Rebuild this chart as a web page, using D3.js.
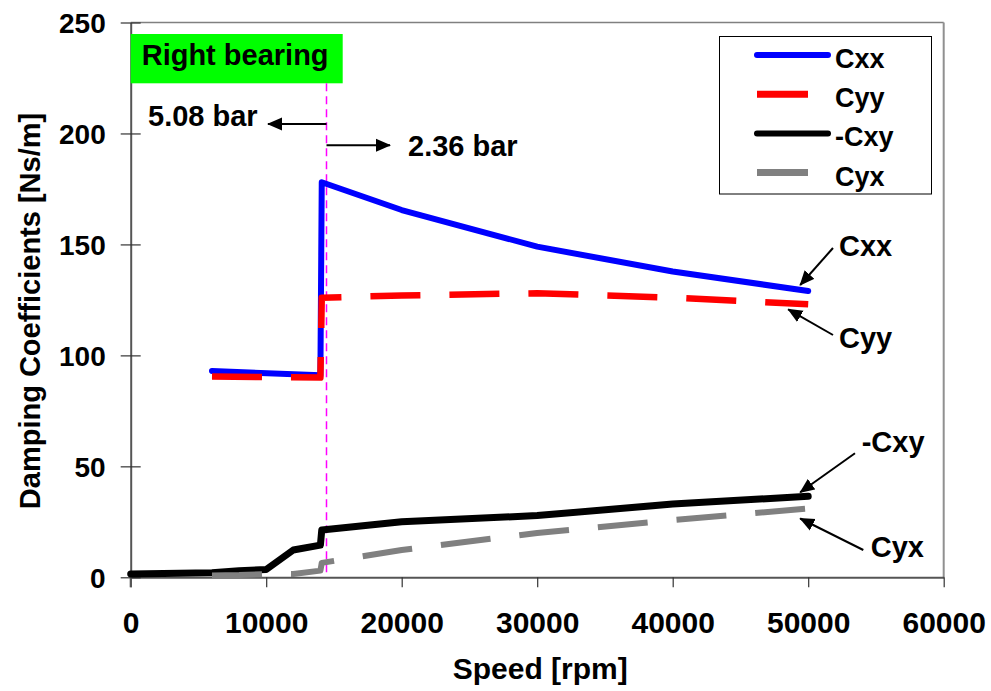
<!DOCTYPE html>
<html>
<head>
<meta charset="utf-8">
<script src="https://cdn.jsdelivr.net/npm/d3@7"></script>
<style>
  html, body { margin: 0; padding: 0; background: #fff; }
  svg { display: block; font-family: "Liberation Sans", Arial, sans-serif; font-weight: bold; }
</style>
</head>
<body>
<svg id="chart" width="991" height="691"></svg>
<script>
// Damping coefficients of the right bearing versus shaft speed
const speedDirect = [6000, 14000, 14100, 20000, 30000, 40000, 50000];
const cxx = [93, 91, 178, 165.5, 149, 137.8, 129];
const cyy = [90.5, 90, 126, 127, 128, 126, 123];

const speedCxy = [0, 6000, 8000, 10000, 12000, 14000, 14100, 20000, 30000, 40000, 50000];
const negCxy = [1.5, 2, 3, 3.5, 12.3, 14.5, 21.3, 25, 27.8, 33, 36.5];

const speedCyx = [6000, 8000, 10000, 12000, 14000, 14100, 20000, 30000, 40000, 50000];
const cyx = [0.8, 1, 1.5, 1.5, 3, 6.5, 12.3, 20, 25.8, 31];

const xTicks = [0, 10000, 20000, 30000, 40000, 50000, 60000];
const yTicks = [0, 50, 100, 150, 200, 250];

const supplySpeed = 14450;          // speed where supply pressure changes
const pressureLow = "5.08 bar";
const pressureHigh = "2.36 bar";

const seriesList = [
  { name: "Cxx",  xs: speedDirect, ys: cxx,    color: "#0000ff", width: 6,   dash: null,    cap: "round" },
  { name: "Cyy",  xs: speedDirect, ys: cyy,    color: "#ff0000", width: 6.5, dash: "50,29", cap: "butt" },
  { name: "-Cxy", xs: speedCxy,    ys: negCxy, color: "#000000", width: 7,   dash: null,    cap: "round" },
  { name: "Cyx",  xs: speedCyx,    ys: cyx,    color: "#808080", width: 6,   dash: "50,29", cap: "butt" }
];

const svg = d3.select("#chart");
const x = d3.scaleLinear().domain([0, 60000]).range([130.7, 943.7]);
const y = d3.scaleLinear().domain([0, 250]).range([577.3, 22.5]);

// arrowhead marker
svg.append("defs").append("marker")
  .attr("id", "arrow")
  .attr("markerUnits", "userSpaceOnUse")
  .attr("viewBox", "0 -7 15 14")
  .attr("refX", 14).attr("refY", 0)
  .attr("markerWidth", 15).attr("markerHeight", 14)
  .attr("orient", "auto")
  .append("path").attr("d", "M0,-6.5L15,0L0,6.5Z").attr("fill", "#000");

// plot frame (top and right)
svg.append("line").attr("x1", x(0)).attr("x2", x(60000)).attr("y1", y(250)).attr("y2", y(250))
  .attr("stroke", "#808080").attr("stroke-width", 1.5);
svg.append("line").attr("x1", x(60000)).attr("x2", x(60000)).attr("y1", y(250)).attr("y2", y(0))
  .attr("stroke", "#909090").attr("stroke-width", 2);

// x axis
const xAxis = svg.append("g").attr("transform", `translate(0,${y(0)})`)
  .call(d3.axisBottom(x).tickValues(xTicks).tickSize(10).tickSizeOuter(0).tickFormat(d3.format("d")));
xAxis.select(".domain").attr("stroke", "#555").attr("stroke-width", 2);
xAxis.selectAll(".tick line").attr("stroke", "#333").attr("stroke-width", 1.2);
xAxis.selectAll(".tick text").attr("font-size", 30).attr("font-family", null).attr("fill", "#000")
  .attr("y", 0).attr("dy", null).attr("transform", "translate(0,56)");

// y axis with ticks crossing the axis line
const yAxis = svg.append("g").attr("transform", `translate(${x(0)},0)`)
  .call(d3.axisLeft(y).tickValues(yTicks).tickSize(10).tickSizeOuter(0));
yAxis.select(".domain").attr("stroke", "#555").attr("stroke-width", 2);
yAxis.selectAll(".tick line").attr("x1", 10).attr("x2", -10).attr("stroke", "#333").attr("stroke-width", 1.2);
yAxis.selectAll(".tick text").attr("font-size", 28).attr("font-family", null).attr("fill", "#000")
  .attr("x", -25).attr("dy", "0.36em");
// extend the y axis line below the x axis like a tick
svg.append("line").attr("x1", x(0)).attr("x2", x(0)).attr("y1", y(0)).attr("y2", y(0) + 10)
  .attr("stroke", "#555").attr("stroke-width", 2);

// axis titles
svg.append("text").attr("x", x(30000) + 3).attr("y", 679).attr("text-anchor", "middle")
  .attr("font-size", 30).text("Speed [rpm]");
svg.append("text").attr("transform", "translate(39.5,311) rotate(-90)").attr("text-anchor", "middle")
  .attr("font-size", 29).text("Damping Coefficients [Ns/m]");

// label box for the bearing
svg.append("rect").attr("x", x(0)).attr("y", 34).attr("width", 212).attr("height", 49.3).attr("fill", "#00ff00");
svg.append("text").attr("x", x(0) + 11).attr("y", 65).attr("font-size", 29).text("Right bearing");

// supply-pressure change marker
svg.append("line").attr("x1", x(supplySpeed)).attr("x2", x(supplySpeed)).attr("y1", 83.3).attr("y2", y(0) - 2)
  .attr("stroke", "#ff00ff").attr("stroke-width", 1.5).attr("stroke-dasharray", "8,5");

svg.append("line").attr("x1", x(supplySpeed)).attr("x2", 268).attr("y1", 124).attr("y2", 124)
  .attr("stroke", "#000").attr("stroke-width", 2).attr("marker-end", "url(#arrow)");
svg.append("text").attr("x", 148).attr("y", 126).attr("font-size", 29).text(pressureLow);
svg.append("line").attr("x1", x(supplySpeed)).attr("x2", 390).attr("y1", 145.3).attr("y2", 145.3)
  .attr("stroke", "#000").attr("stroke-width", 2).attr("marker-end", "url(#arrow)");
svg.append("text").attr("x", 408).attr("y", 155.7).attr("font-size", 29).text(pressureHigh);

// series lines
const line = d3.line().x(d => x(d[0])).y(d => y(d[1]));
seriesList.forEach(s => {
  svg.append("path")
    .datum(d3.zip(s.xs, s.ys))
    .attr("d", line)
    .attr("fill", "none")
    .attr("stroke", s.color)
    .attr("stroke-width", s.width)
    .attr("stroke-linejoin", "round")
    .attr("stroke-linecap", s.cap)
    .attr("stroke-dasharray", s.dash);
});

// end labels with arrows pointing at the last points
const endLabels = [
  { name: "Cxx",  tx: 839,   ty: 255.7, from: [833, 248],   dx: -8,  dy: -6, s: 0 },
  { name: "Cyy",  tx: 839,   ty: 348,   from: [833, 335],   dx: -20, dy: 5,  s: 1 },
  { name: "-Cxy", tx: 861.7, ty: 451.7, from: [855, 453.3], dx: -8,  dy: -4, s: 2 },
  { name: "Cyx",  tx: 870.7, ty: 556.7, from: [863.3, 550], dx: -8,  dy: 10, s: 3 }
];
endLabels.forEach(l => {
  const s = seriesList[l.s];
  const px = x(s.xs[s.xs.length - 1]) + l.dx;
  const py = y(s.ys[s.ys.length - 1]) + l.dy;
  svg.append("line").attr("x1", l.from[0]).attr("y1", l.from[1]).attr("x2", px).attr("y2", py)
    .attr("stroke", "#000").attr("stroke-width", 2).attr("marker-end", "url(#arrow)");
  svg.append("text").attr("x", l.tx).attr("y", l.ty).attr("font-size", 29).text(l.name);
});

// legend
const lg = svg.append("g");
lg.append("rect").attr("x", 719.5).attr("y", 36.5).attr("width", 212).attr("height", 157.5)
  .attr("fill", "#fff").attr("stroke", "#000").attr("stroke-width", 1);
seriesList.forEach((s, i) => {
  const cy = 55 + i * 39.2;
  const solid = s.dash === null;
  lg.append("line")
    .attr("x1", 757).attr("x2", solid ? 828 : 808)
    .attr("y1", cy).attr("y2", cy)
    .attr("stroke", s.color).attr("stroke-width", solid ? 6 : 7)
    .attr("stroke-linecap", solid ? "round" : "butt");
  lg.append("text").attr("x", 835).attr("y", cy + 13).attr("font-size", 27).text(s.name);
});
</script>
</body>
</html>
